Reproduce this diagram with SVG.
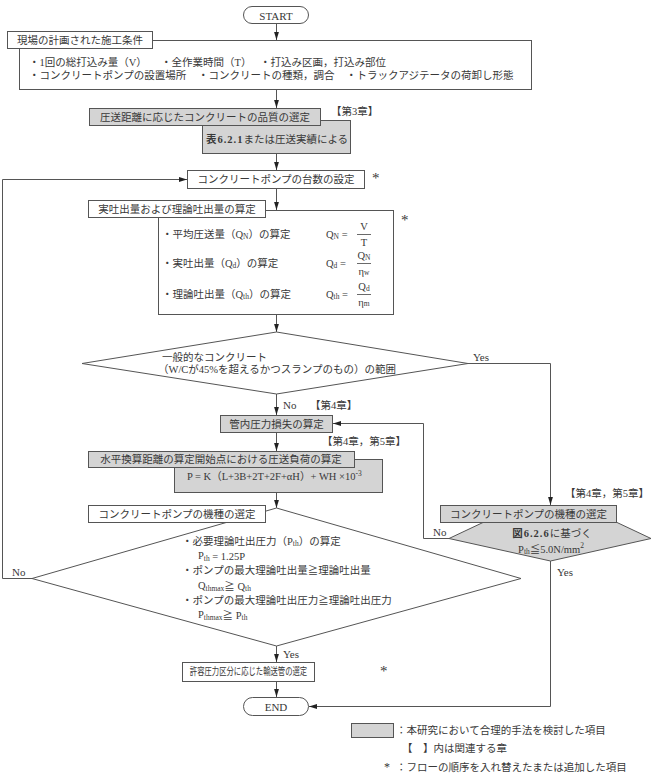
<svg xmlns="http://www.w3.org/2000/svg" width="653" height="777" viewBox="0 0 653 777">
<defs>
<style>
.t{font-family:"Liberation Serif","Noto Sans CJK JP",serif;font-size:10.5px;fill:#383838;dominant-baseline:central}
.m{text-anchor:middle}
.e{font-family:"Liberation Serif",serif;font-size:11px}
.k{font-family:"Liberation Serif",serif;font-size:15px}
.s{font-size:7.5px}
.b{fill:#fff;stroke:#555;stroke-width:1}
.g{fill:#d4d4d4;stroke:#555;stroke-width:1}
.c path,.c line{fill:none;stroke:#555;stroke-width:1}
.a{marker-end:url(#ah)}
.bar{stroke:#444;stroke-width:0.8}
</style>
<marker id="ah" viewBox="0 0 10 10" refX="10" refY="5" markerWidth="8" markerHeight="8" orient="auto" markerUnits="userSpaceOnUse">
<path d="M0,2 L10,5 L0,8 z" fill="#222"/>
</marker>
</defs>
<rect width="653" height="777" fill="#fff"/>

<g id="connectors" class="c">
<path class="a" d="M276.5,23.5 V40"/>
<path class="a" d="M276.5,89.5 V108"/>
<path class="a" d="M276.5,153.5 V170"/>
<path class="a" d="M276.5,188.5 V210"/>
<path class="a" d="M276.5,314.5 V332"/>
<path class="a" d="M276.5,394 V415"/>
<path class="a" d="M276.5,432.5 V451"/>
<path class="a" d="M276.5,492.5 V508"/>
<path class="a" d="M276.5,646 V662"/>
<path class="a" d="M276.5,681.5 V697"/>
<path class="a" d="M468,363.5 H550.5 V505"/>
<path class="a" d="M449,538.5 H423.5 V423.5 H333"/>
<path class="a" d="M32,578.5 H2.5 V179.5 H187"/>
<path class="a" d="M550.5,561 V706.5 H309"/>
</g>

<g id="start">
<rect class="b" x="243.5" y="6.5" width="65" height="17" rx="8.5"/>
<text class="t e m" x="276" y="15.5">START</text>
</g>

<g id="site-conditions">
<rect class="b" x="19.5" y="40.5" width="512" height="49"/>
<rect class="b" x="7.5" y="31.5" width="145" height="17"/>
<text class="t m" x="80" y="40">現場の計画された施工条件</text>
<text class="t" x="29" y="62">・1回の総打込み量（V）</text>
<text class="t" x="161" y="62">・全作業時間（T）</text>
<text class="t" x="260" y="62">・打込み区画，打込み部位</text>
<text class="t" x="29" y="75">・コンクリートポンプの設置場所</text>
<text class="t" x="198" y="75">・コンクリートの種類，調合</text>
<text class="t" x="346" y="75">・トラックアジテータの荷卸し形態</text>
</g>

<g id="quality">
<rect class="g" x="202.5" y="120.5" width="148" height="33"/>
<rect class="g" x="89.5" y="108.5" width="231" height="17"/>
<text class="t m" x="205" y="117">圧送距離に応じたコンクリートの品質の選定</text>
<text class="t m" x="277" y="139"><tspan font-weight="bold" letter-spacing="1">表6.2.1</tspan>または圧送実績による</text>
</g>

<g id="pump-count">
<rect class="b" x="187.5" y="170.5" width="177" height="18"/>
<text class="t m" x="276" y="179.5">コンクリートポンプの台数の設定</text>
</g>

<g id="output-calc">
<rect class="b" x="158.5" y="210.5" width="235" height="104"/>
<rect class="b" x="88.5" y="200.5" width="177" height="17"/>
<text class="t m" x="177" y="209">実吐出量および理論吐出量の算定</text>
<text class="t" x="162" y="234">・平均圧送量（Q<tspan class="s" dy="2">N</tspan><tspan dy="-2">）の算定</tspan></text>
<text class="t" x="326" y="234">Q<tspan class="s" dy="2">N</tspan><tspan dy="-2"> =</tspan></text>
<text class="t m" x="364" y="226">V</text>
<line class="bar" x1="357" y1="234.5" x2="371" y2="234.5"/>
<text class="t m" x="364" y="242.5">T</text>
<text class="t" x="162" y="263">・実吐出量（Q<tspan class="s" dy="2">d</tspan><tspan dy="-2">）の算定</tspan></text>
<text class="t" x="326" y="263">Q<tspan class="s" dy="2">d</tspan><tspan dy="-2"> =</tspan></text>
<text class="t m" x="364" y="255">Q<tspan class="s" dy="2">N</tspan></text>
<line class="bar" x1="357" y1="263.5" x2="371" y2="263.5"/>
<text class="t m" x="364" y="271">η<tspan class="s" dy="1">w</tspan></text>
<text class="t" x="162" y="294">・理論吐出量（Q<tspan class="s" dy="2">th</tspan><tspan dy="-2">）の算定</tspan></text>
<text class="t" x="326" y="294">Q<tspan class="s" dy="2">th</tspan><tspan dy="-2"> =</tspan></text>
<text class="t m" x="364" y="286">Q<tspan class="s" dy="2">d</tspan></text>
<line class="bar" x1="357" y1="294.5" x2="371" y2="294.5"/>
<text class="t m" x="364" y="302">η<tspan class="s" dy="1">m</tspan></text>
</g>

<g id="decision-general">
<polygon class="b" points="276.5,332 468,363.5 276.5,394 82,363.5"/>
<text class="t" x="162" y="357">一般的なコンクリート</text>
<text class="t" x="158" y="369.5">（W/Cが45%を超えるかつスランプのもの）の範囲</text>
</g>

<g id="pressure-loss">
<rect class="g" x="220.5" y="415.5" width="112" height="17"/>
<text class="t m" x="276.5" y="424">管内圧力損失の算定</text>
</g>

<g id="pressure-load">
<rect class="g" x="174.5" y="459.5" width="208" height="33"/>
<rect class="g" x="88.5" y="451.5" width="266" height="16"/>
<text class="t m" x="221" y="459.5">水平換算距離の算定開始点における圧送負荷の算定</text>
<text class="t" x="187" y="476.5">P = K（L+3B+2T+2F+αH）+ WH ×10<tspan class="s" dy="-4">-3</tspan></text>
</g>

<g id="pump-select-left">
<polygon class="b" points="276.5,508 521,578.5 276.5,646 32,578.5"/>
<rect class="b" x="88.5" y="505.5" width="177" height="17"/>
<text class="t m" x="177" y="514">コンクリートポンプの機種の選定</text>
<text class="t" x="182" y="541">・必要理論吐出圧力（P<tspan class="s" dy="2">th</tspan><tspan dy="-2">）の算定</tspan></text>
<text class="t" x="198" y="555.5">P<tspan class="s" dy="2">th</tspan><tspan dy="-2"> = 1.25P</tspan></text>
<text class="t" x="182" y="570.5">・ポンプの最大理論吐出量≧理論吐出量</text>
<text class="t" x="198" y="585.5">Q<tspan class="s" dy="2">thmax</tspan><tspan dy="-2">≧ Q</tspan><tspan class="s" dy="2">th</tspan></text>
<text class="t" x="182" y="600">・ポンプの最大理論吐出圧力≧理論吐出圧力</text>
<text class="t" x="198" y="614.5">P<tspan class="s" dy="2">thmax</tspan><tspan dy="-2">≧ P</tspan><tspan class="s" dy="2">th</tspan></text>
</g>

<g id="pump-select-right">
<polygon class="g" points="449,538.5 484,522 616,522 651,538.5 550.5,561"/>
<rect class="g" x="440.5" y="505.5" width="176" height="17"/>
<text class="t m" x="528.5" y="514">コンクリートポンプの機種の選定</text>
<text class="t m" x="552" y="533"><tspan font-weight="bold" letter-spacing="1">図6.2.6</tspan>に基づく</text>
<text class="t m" x="551" y="549">P<tspan class="s" dy="2">th</tspan><tspan dy="-2">≦5.0N/mm</tspan><tspan class="s" dy="-4">2</tspan></text>
</g>

<g id="pipe-select">
<rect class="b" x="182.5" y="662.5" width="132" height="19"/>
<text class="t m" transform="translate(248.5,672) scale(0.7,1)" x="0" y="0" style="font-size:10.5px">許容圧力区分に応じた輸送管の選定</text>
</g>

<g id="end">
<rect class="b" x="243.5" y="697.5" width="65" height="18" rx="9"/>
<text class="t e m" x="276" y="706.5">END</text>
</g>

<g id="labels">
<text class="t k" x="372" y="178">*</text>
<text class="t k" x="401" y="220">*</text>
<text class="t k" x="380" y="671">*</text>
<text class="t" x="331" y="111">【第3章】</text>
<text class="t e" x="473" y="357">Yes</text>
<text class="t e" x="283" y="405">No</text>
<text class="t" x="310" y="405">【第4章】</text>
<text class="t" x="322" y="441">【第4章，第5章】</text>
<text class="t" x="565" y="493">【第4章，第5章】</text>
<text class="t e" x="433" y="532">No</text>
<text class="t e" x="557" y="572">Yes</text>
<text class="t e" x="12" y="572">No</text>
<text class="t e" x="283" y="654">Yes</text>
</g>

<g id="legend">
<rect class="g" x="351.5" y="723.5" width="42" height="14"/>
<text class="t" x="396" y="730">：本研究において合理的手法を検討した項目</text>
<text class="t" x="402" y="748">【　】内は関連する章</text>
<text class="t" x="384" y="767" style="font-family:'Liberation Serif',serif;font-size:12px">*</text>
<text class="t" x="396" y="767">：フローの順序を入れ替えたまたは追加した項目</text>
</g>
</svg>
